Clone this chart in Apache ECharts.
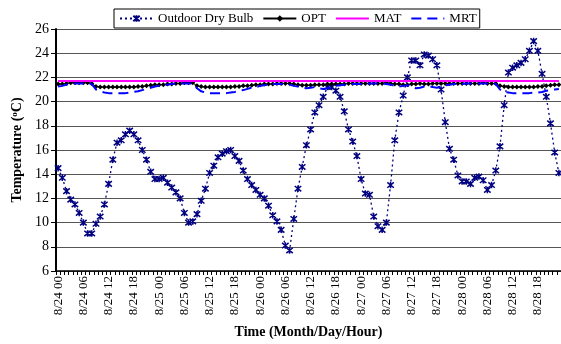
<!DOCTYPE html>
<html>
<head>
<meta charset="utf-8">
<script src="https://cdn.jsdelivr.net/npm/echarts@6/dist/echarts.min.js"></script>
<style>
html, body { margin: 0; padding: 0; background: #fff; }
#chart { width: 561px; height: 344px; }
</style>
</head>
<body>
<div id="chart"></div>
<script>
var days = ['8/24', '8/25', '8/26', '8/27', '8/28'];
var hours = ['00', '01', '02', '03', '04', '05', '06', '07', '08', '09', '10', '11',
             '12', '13', '14', '15', '16', '17', '18', '19', '20', '21', '22', '23'];

// outdoor dry bulb, one row per day (hourly)
var outdoor = [
  14.5, 13.7, 12.6, 11.9, 11.5, 10.8, 10.0, 9.1, 9.1, 9.9, 10.5, 11.5, 13.2, 15.2, 16.6, 16.8, 17.3, 17.6, 17.3, 16.8, 16.0, 15.2, 14.2, 13.6,
  13.6, 13.7, 13.3, 12.9, 12.5, 12.0, 10.8, 10.0, 10.1, 10.7, 11.8, 12.8, 14.1, 14.7, 15.4, 15.7, 15.9, 16.0, 15.5, 15.1, 14.3, 13.6, 13.1, 12.7,
  12.3, 12.0, 11.4, 10.6, 10.1, 9.4, 8.1, 7.7, 10.3, 12.8, 14.6, 16.4, 17.7, 19.1, 19.7, 20.4, 21.2, 21.2, 20.9, 20.4, 19.2, 17.7, 16.7, 15.5,
  13.6, 12.4, 12.3, 10.5, 9.7, 9.4, 10.0, 13.1, 16.8, 19.1, 20.5, 22.0, 23.4, 23.4, 23.0, 23.9, 23.8, 23.5, 23.0, 21.0, 18.3, 16.1, 15.2, 13.9,
  13.4, 13.4, 13.2, 13.7, 13.8, 13.5, 12.7, 13.1, 14.3, 16.3, 19.7, 22.4, 22.8, 23.0, 23.2, 23.5, 24.2, 25.0, 24.2, 22.3, 20.4, 18.2, 15.8, 14.1
];

var opt = [
  21.45, 21.45, 21.5, 21.55, 21.55, 21.55, 21.55, 21.55, 21.5, 21.25, 21.2, 21.2, 21.2, 21.2, 21.2, 21.2, 21.2, 21.2, 21.2, 21.25, 21.25, 21.3, 21.35, 21.4,
  21.4, 21.4, 21.45, 21.45, 21.5, 21.5, 21.55, 21.55, 21.55, 21.3, 21.25, 21.2, 21.2, 21.2, 21.2, 21.2, 21.2, 21.2, 21.25, 21.25, 21.3, 21.3, 21.35, 21.4,
  21.4, 21.45, 21.45, 21.45, 21.5, 21.5, 21.5, 21.5, 21.45, 21.4, 21.35, 21.35, 21.35, 21.4, 21.4, 21.4, 21.45, 21.45, 21.45, 21.45, 21.45, 21.5, 21.5, 21.5,
  21.5, 21.5, 21.5, 21.5, 21.5, 21.5, 21.55, 21.5, 21.45, 21.45, 21.4, 21.4, 21.45, 21.45, 21.5, 21.45, 21.45, 21.5, 21.5, 21.5, 21.5, 21.5, 21.5, 21.5,
  21.5, 21.5, 21.5, 21.5, 21.5, 21.55, 21.5, 21.5, 21.5, 21.3, 21.25, 21.2, 21.2, 21.2, 21.2, 21.2, 21.2, 21.2, 21.25, 21.25, 21.3, 21.35, 21.4, 21.4
];

var mat = [
  21.7, 21.7, 21.7, 21.7, 21.7, 21.7, 21.7, 21.7, 21.7, 21.7, 21.7, 21.7, 21.7, 21.7, 21.7, 21.7, 21.7, 21.7, 21.7, 21.7, 21.7, 21.7, 21.7, 21.7,
  21.7, 21.7, 21.7, 21.7, 21.7, 21.7, 21.7, 21.7, 21.7, 21.7, 21.7, 21.7, 21.7, 21.7, 21.7, 21.7, 21.7, 21.7, 21.7, 21.7, 21.7, 21.7, 21.7, 21.7,
  21.7, 21.7, 21.7, 21.7, 21.7, 21.7, 21.7, 21.7, 21.7, 21.7, 21.7, 21.7, 21.7, 21.7, 21.7, 21.7, 21.7, 21.7, 21.7, 21.7, 21.7, 21.7, 21.7, 21.7,
  21.7, 21.7, 21.7, 21.7, 21.7, 21.7, 21.7, 21.7, 21.7, 21.7, 21.7, 21.7, 21.7, 21.7, 21.7, 21.7, 21.7, 21.7, 21.7, 21.7, 21.7, 21.7, 21.7, 21.7,
  21.7, 21.7, 21.7, 21.7, 21.7, 21.7, 21.7, 21.7, 21.7, 21.7, 21.7, 21.7, 21.7, 21.7, 21.7, 21.7, 21.7, 21.7, 21.7, 21.7, 21.7, 21.7, 21.7, 21.7
];

var mrt = [
  21.25, 21.3, 21.4, 21.5, 21.5, 21.5, 21.5, 21.5, 21.45, 21.0, 20.85, 20.75, 20.7, 20.7, 20.7, 20.7, 20.7, 20.75, 20.8, 20.85, 20.95, 21.05, 21.15, 21.25,
  21.3, 21.35, 21.4, 21.45, 21.5, 21.5, 21.5, 21.5, 21.5, 21.1, 20.85, 20.75, 20.7, 20.7, 20.7, 20.7, 20.7, 20.75, 20.8, 20.9, 20.95, 21.05, 21.15, 21.2,
  21.3, 21.35, 21.4, 21.45, 21.45, 21.45, 21.4, 21.4, 21.3, 21.25, 21.15, 21.1, 21.15, 21.2, 21.1, 21.05, 21.1, 21.2, 21.3, 21.35, 21.4, 21.4, 21.45, 21.45,
  21.45, 21.45, 21.5, 21.5, 21.5, 21.5, 21.45, 21.4, 21.3, 21.25, 21.3, 21.35, 21.2, 21.1, 21.15, 21.25, 21.3, 21.2, 21.15, 21.25, 21.35, 21.4, 21.45, 21.45,
  21.45, 21.5, 21.5, 21.5, 21.5, 21.5, 21.5, 21.5, 21.45, 21.0, 20.8, 20.75, 20.7, 20.7, 20.7, 20.7, 20.7, 20.75, 20.75, 20.8, 20.9, 20.95, 21.0, 21.05
];

var categories = [];
for (var d = 0; d < days.length; d++) {
  for (var h = 0; h < hours.length; h++) {
    categories.push(days[d] + ' ' + hours[h]);
  }
}

var serif = '"Liberation Serif", "Times New Roman", serif';
var starMark = 'path://M0,0L10,10M10,0L0,10M5,-1L5,11';

var chart = echarts.init(document.getElementById('chart'));

var option = {
  animation: false,
  textStyle: { fontFamily: serif, color: '#000' },
  legend: {
    left: 114,
    top: 9,
    padding: [3, 3, 3, 5],
    itemGap: 9,
    itemWidth: 33,
    itemHeight: 8,
    backgroundColor: '#fff',
    borderColor: '#000',
    borderWidth: 1,
    borderRadius: 0,
    textStyle: { fontFamily: serif, fontSize: 13, color: '#000' },
    data: [
      'Outdoor Dry Bulb',
      'OPT',
      { name: 'MAT', itemStyle: { opacity: 0 } },
      { name: 'MRT', itemStyle: { opacity: 0 } }
    ]
  },
  grid: { left: 56, right: 0, top: 29, bottom: 67, containLabel: false },
  xAxis: {
    type: 'category',
    data: categories,
    boundaryGap: true,
    name: 'Time (Month/Day/Hour)',
    nameLocation: 'middle',
    nameGap: 54,
    nameTextStyle: { fontFamily: serif, fontSize: 14, fontWeight: 'bold', color: '#000' },
    axisLine: { lineStyle: { color: '#000', width: 1.5 } },
    axisTick: { show: true, interval: 0, length: 4, lineStyle: { color: '#000', width: 1 } },
    axisLabel: { interval: 5, rotate: 90, fontSize: 13, fontFamily: serif, color: '#000', margin: 5 },
    splitLine: { show: false }
  },
  yAxis: {
    type: 'value',
    min: 6,
    max: 26,
    interval: 2,
    name: '{t|Temperature (}{s|o}{t|C)}',
    nameLocation: 'middle',
    nameGap: 31,
    nameRotate: 90,
    nameTextStyle: {
      rich: {
        t: { fontFamily: serif, fontSize: 14, fontWeight: 'bold', color: '#000' },
        s: { fontFamily: serif, fontSize: 9, fontWeight: 'bold', color: '#000', verticalAlign: 'top', padding: [0, 0, 5, 0] }
      }
    },
    axisLine: { show: true, lineStyle: { color: '#000', width: 2 } },
    axisTick: { show: true, length: 5, lineStyle: { color: '#000' } },
    axisLabel: { fontSize: 14, fontFamily: serif, color: '#000', margin: 7 },
    splitLine: { show: true, lineStyle: { color: '#555', width: 1 } }
  },
  series: [
    {
      name: 'Outdoor Dry Bulb',
      type: 'line',
      data: outdoor,
      symbol: starMark,
      symbolSize: 6.5,
      showAllSymbol: true,
      itemStyle: { color: '#000080', borderColor: '#000080', borderWidth: 1.5 },
      lineStyle: { color: '#000080', width: 1.3, type: [2, 3] },
      z: 3
    },
    {
      name: 'OPT',
      type: 'line',
      data: opt,
      symbol: 'diamond',
      symbolSize: 5,
      showAllSymbol: true,
      itemStyle: { color: '#000', borderColor: '#000', borderWidth: 0 },
      lineStyle: { color: '#000', width: 1 },
      z: 4
    },
    {
      name: 'MAT',
      type: 'line',
      data: mat,
      symbol: 'none',
      itemStyle: { color: '#ff00ff' },
      lineStyle: { color: '#ff00ff', width: 2 },
      z: 5
    },
    {
      name: 'MRT',
      type: 'line',
      data: mrt,
      symbol: 'none',
      itemStyle: { color: '#0000ff' },
      lineStyle: { color: '#0000ff', width: 2, type: [10, 6] },
      z: 6
    }
  ]
};

chart.setOption(option);
</script>
</body>
</html>
